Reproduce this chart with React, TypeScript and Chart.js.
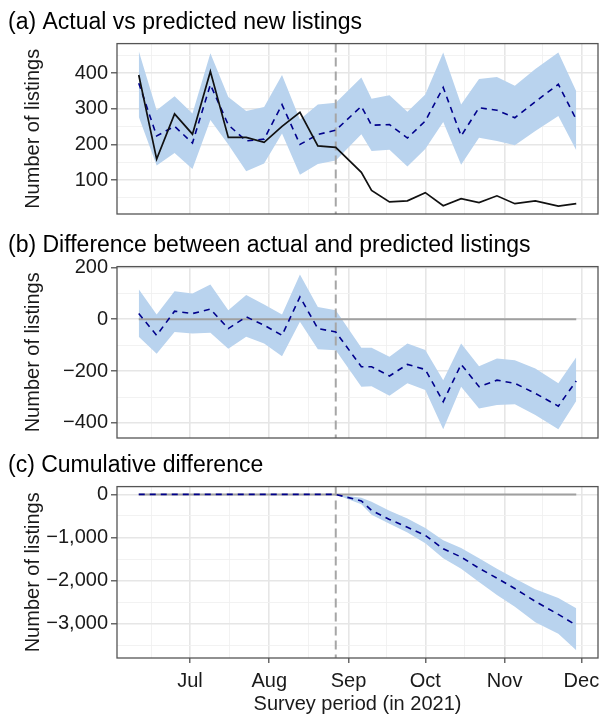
import React, { useEffect, useRef } from 'react';
import { Chart, registerables } from 'chart.js';

Chart.register(...registerables);
Chart.defaults.font.family = '"Liberation Sans", Arial, Helvetica, sans-serif';

// ---- data (x = day of year 2021) ----
const DATES = [162, 169, 176, 183, 190, 197, 204, 211, 218, 225, 232, 239, 249, 253, 260, 267, 274, 281, 288, 295, 302, 309, 317, 326, 333];
const INTERVENTION_DAY = 239;

const ACTUAL = [395, 159, 286, 229, 405, 220, 220, 206, 251, 290, 196, 192, 122, 71, 39, 42, 65, 28, 48, 37, 56, 34, 42, 27, 34];
const PREDICTED = [372, 224, 251, 204, 368, 255, 210, 215, 312, 200, 228, 240, 307, 254, 256, 218, 266, 360, 224, 303, 296, 275, 320, 369, 270];
const PRED_HIGH = [462, 296, 335, 287, 456, 333, 294, 305, 395, 270, 312, 317, 388, 328, 338, 292, 340, 458, 312, 384, 389, 365, 412, 458, 349];
const PRED_LOW = [278, 141, 176, 131, 269, 200, 125, 147, 231, 115, 145, 155, 229, 182, 185, 138, 187, 263, 143, 219, 210, 198, 238, 280, 184];

const DIFF = [22, -62, 31, 22, 39, -36, 9, -23, -62, 86, -36, -49, -183, -183, -219, -174, -194, -318, -174, -260, -235, -247, -286, -335, -238];
const DIFF_HIGH = [116, 18, 108, 99, 134, 35, 93, 57, 18, 173, 47, 35, -110, -110, -145, -94, -119, -235, -94, -181, -151, -158, -190, -247, -147];
const DIFF_LOW = [-68, -133, -49, -55, -52, -114, -68, -94, -143, -10, -116, -120, -260, -258, -295, -247, -273, -424, -260, -344, -331, -328, -369, -424, -315];

const CUM = [0, 0, 0, 0, 0, 0, 0, 0, 0, 0, 0, 0, -150, -370, -580, -760, -950, -1260, -1450, -1710, -1940, -2180, -2480, -2780, -3030];
const CUM_HIGH = [0, 0, 0, 0, 0, 0, 0, 0, 0, 0, 0, 0, -80, -170, -380, -560, -780, -1060, -1240, -1480, -1720, -1950, -2200, -2400, -2640];
const CUM_LOW = [0, 0, 0, 0, 0, 0, 0, 0, 0, 0, 0, 0, -230, -470, -680, -880, -1130, -1480, -1720, -2030, -2330, -2600, -2960, -3230, -3610];

const ZERO_LINE = [0, 0];

const MONTH_TICKS = [182, 213, 244, 274, 305, 335];
const MONTH_LABELS = ['Jul', 'Aug', 'Sep', 'Oct', 'Nov', 'Dec'];
const MONTH_MINOR = [167, 197.5, 228.5, 259, 289.5, 320];

const A_TICKS = [100, 200, 300, 400];
const A_MINOR = [50, 150, 250, 350, 450];
const B_TICKS = [-400, -200, 0, 200];
const B_MINOR = [-300, -100, 100];
const C_TICKS = [-3000, -2000, -1000, 0];
const C_MINOR = [-3500, -2500, -1500, -500];

const TITLES = [
  '(a) Actual vs predicted new listings',
  '(b) Difference between actual and predicted listings',
  '(c) Cumulative difference',
];
const Y_TITLE = 'Number of listings';
const X_TITLE = 'Survey period (in 2021)';

// ---- layout / style ----
const X_MIN = 153.5;
const X_MAX = 341.5;
const BAND = '#b9d3ee';
const NAVY = '#00008b';
const GRID_MAJOR = '#e6e6e6';
const GRID_MINOR = '#f1f1f1';
const TEXT = '#1a1a1a';

type Panel = {
  title: string;
  top: number;
  height: number;
  padBottom: number;
  yMin: number;
  yMax: number;
  yMajor: number[];
  yMinor: number[];
  high: number[];
  low: number[];
  dashed: number[];
  solid?: number[];
  zero: boolean;
  showX: boolean;
};

const PANELS: Panel[] = [
  { title: TITLES[0], top: -2, height: 222, padBottom: 6, yMin: 5, yMax: 483, yMajor: A_TICKS, yMinor: A_MINOR, high: PRED_HIGH, low: PRED_LOW, dashed: PREDICTED, solid: ACTUAL, zero: false, showX: false },
  { title: TITLES[1], top: 221, height: 223, padBottom: 6, yMin: -458, yMax: 203, yMajor: B_TICKS, yMinor: B_MINOR, high: DIFF_HIGH, low: DIFF_LOW, dashed: DIFF, zero: true, showX: false },
  { title: TITLES[2], top: 441, height: 280, padBottom: 0, yMin: -3790, yMax: 181, yMajor: C_TICKS, yMinor: C_MINOR, high: CUM_HIGH, low: CUM_LOW, dashed: CUM, zero: true, showX: true },
];

const fmt = (v: number) => {
  const s = Math.abs(v).toLocaleString('en-US');
  return v < 0 ? '\u2212' + s : s;
};

const decoPlugin = {
  id: 'deco',
  beforeDatasetDraw(chart: any, args: any, opts: any) {
    if (args.index !== opts.vlineBefore) return;
    const { ctx, chartArea } = chart;
    const x = chart.scales.x.getPixelForValue(opts.vlineX);
    ctx.save();
    ctx.beginPath();
    ctx.setLineDash([9, 5]);
    ctx.strokeStyle = '#a6a6a6';
    ctx.lineWidth = 2;
    ctx.moveTo(x, chartArea.top);
    ctx.lineTo(x, chartArea.bottom);
    ctx.stroke();
    ctx.restore();
  },
  afterDraw(chart: any) {
    const { ctx, chartArea: a } = chart;
    ctx.save();
    ctx.strokeStyle = '#555555';
    ctx.lineWidth = 1.3;
    ctx.strokeRect(a.left, a.top, a.right - a.left, a.bottom - a.top);
    ctx.restore();
  },
};

function makeChart(canvas: HTMLCanvasElement, p: Panel) {
  const pts = (arr: number[]) => DATES.map((d, i) => ({ x: d, y: arr[i] }));
  const datasets: any[] = [];
  if (p.solid) {
    datasets.push({ data: pts(p.solid), borderColor: '#111111', borderWidth: 1.7, pointRadius: 0, fill: false, tension: 0 });
  }
  datasets.push({ data: pts(p.dashed), borderColor: NAVY, borderWidth: 1.6, borderDash: [6, 5], pointRadius: 0, fill: false });
  if (p.zero) {
    datasets.push({
      data: [{ x: DATES[0], y: ZERO_LINE[0] }, { x: DATES[DATES.length - 1], y: ZERO_LINE[1] }],
      borderColor: '#a0a0a0', borderWidth: 2, pointRadius: 0, fill: false,
    });
  }
  const vlineBefore = datasets.length - 1;
  datasets.push({ data: pts(p.high), borderWidth: 0, borderColor: 'rgba(0,0,0,0)', backgroundColor: BAND, pointRadius: 0, fill: '+1' });
  datasets.push({ data: pts(p.low), borderWidth: 0, borderColor: 'rgba(0,0,0,0)', pointRadius: 0, fill: false });

  const majorY = new Set(p.yMajor);
  const majorX = new Set(MONTH_TICKS);

  return new Chart(canvas, {
    type: 'line',
    data: { datasets },
    plugins: [decoPlugin],
    options: {
      responsive: false,
      maintainAspectRatio: false,
      animation: false,
      events: [],
      layout: { padding: { left: 8, right: 5, top: 0, bottom: p.padBottom } },
      plugins: {
        legend: { display: false },
        tooltip: { enabled: false },
        title: {
          display: true,
          text: p.title,
          align: 'start',
          color: '#000',
          font: { size: 23, weight: 'normal', lineHeight: 1.2 },
          padding: { top: 11, bottom: 7 },
        },
        deco: { vlineBefore, vlineX: INTERVENTION_DAY },
      } as any,
      scales: {
        x: {
          type: 'linear',
          min: X_MIN,
          max: X_MAX,
          afterBuildTicks: (s: any) => {
            s.ticks = [...MONTH_TICKS, ...MONTH_MINOR].sort((a, b) => a - b).map((v) => ({ value: v }));
          },
          afterFit: (s: any) => {
            s.height = p.showX ? p.top + p.height - p.padBottom - 658 : 0;
            s.paddingLeft = 0;
            s.paddingRight = 0;
          },
          border: { display: false },
          grid: {
            color: (c: any) => (c.tick && majorX.has(c.tick.value) ? GRID_MAJOR : GRID_MINOR),
            lineWidth: (c: any) => (c.tick && majorX.has(c.tick.value) ? 1.6 : 0.9),
            drawTicks: p.showX,
            tickLength: 5,
            tickWidth: 1.2,
            tickColor: (c: any) => (c.tick && majorX.has(c.tick.value) ? '#444444' : 'rgba(0,0,0,0)'),
          },
          ticks: {
            display: p.showX,
            autoSkip: false,
            maxRotation: 0,
            padding: 6,
            color: TEXT,
            font: { size: 20 },
            callback: (v: any) => {
              const i = MONTH_TICKS.indexOf(Number(v));
              return i >= 0 ? MONTH_LABELS[i] : '';
            },
          },
          title: {
            display: p.showX,
            text: X_TITLE,
            color: TEXT,
            font: { size: 20, lineHeight: 1.2 },
            padding: { top: 0, bottom: 5 },
          },
        },
        y: {
          type: 'linear',
          min: p.yMin,
          max: p.yMax,
          afterBuildTicks: (s: any) => {
            s.ticks = [...p.yMajor, ...p.yMinor].sort((a, b) => a - b).map((v) => ({ value: v }));
          },
          afterFit: (s: any) => {
            s.width = 109;
            s.paddingTop = 0;
            s.paddingBottom = 0;
          },
          border: { display: false },
          grid: {
            color: (c: any) => (c.tick && majorY.has(c.tick.value) ? GRID_MAJOR : GRID_MINOR),
            lineWidth: (c: any) => (c.tick && majorY.has(c.tick.value) ? 1.6 : 0.9),
            drawTicks: true,
            tickLength: 6,
            tickWidth: 1.2,
            tickColor: (c: any) => (c.tick && majorY.has(c.tick.value) ? '#444444' : 'rgba(0,0,0,0)'),
          },
          ticks: {
            autoSkip: false,
            padding: 3,
            color: TEXT,
            font: { size: 20 },
            callback: (v: any) => (majorY.has(Number(v)) ? fmt(Number(v)) : ''),
          },
          title: {
            display: true,
            text: Y_TITLE,
            color: TEXT,
            font: { size: 20, lineHeight: 1.2 },
            padding: { top: 13, bottom: 0 },
          },
        },
      },
    } as any,
  });
}

export default function App() {
  const r0 = useRef<HTMLCanvasElement>(null);
  const r1 = useRef<HTMLCanvasElement>(null);
  const r2 = useRef<HTMLCanvasElement>(null);
  const refs = [r0, r1, r2];

  useEffect(() => {
    const charts = PANELS.map((p, i) => makeChart(refs[i].current as HTMLCanvasElement, p));
    return () => charts.forEach((c) => c.destroy());
  }, []);

  return (
    <div style={{ position: 'fixed', left: 0, top: 0, width: 603, height: 714, overflow: 'hidden', background: '#ffffff' }}>
      {PANELS.map((p, i) => (
        <canvas
          key={i}
          ref={refs[i]}
          width={603}
          height={p.height}
          style={{ position: 'absolute', left: 0, top: p.top, width: 603, height: p.height }}
        />
      ))}
    </div>
  );
}
